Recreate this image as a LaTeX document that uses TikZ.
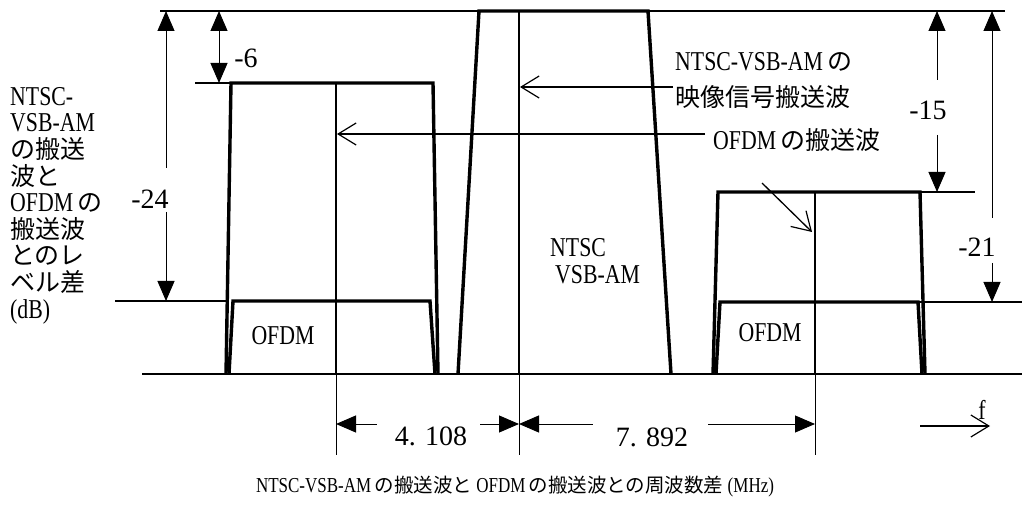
\documentclass[tikz,border=0pt]{standalone}
\usepackage{fontspec}
\setmainfont{Liberation Serif}[Scale=1.09, FakeStretch=0.8]
\newfontfamily\num{Liberation Serif}[Scale=1.12]
\newfontfamily\jp{Noto Sans CJK JP}
\usetikzlibrary{arrows.meta}
\newcommand{\J}[1]{{\jp #1}}
\begin{document}
\begin{tikzpicture}[x=1pt,y=-1pt,
  lvl/.style={line width=1.2pt},
  boxline/.style={line width=3.4pt, line join=miter, line cap=butt},
  carrier/.style={line width=1.8pt},
  guide/.style={line width=0.9pt},
  dimline/.style={line width=1pt},
  tri/.tip={Triangle[length=20pt,width=17pt]},
  barb/.tip={Straight Barb[length=18pt,width=22pt,line width=1.2pt]},
  ptr/.style={line width=1.3pt,-barb},
  txt/.style={inner sep=0pt, font=\fontsize{25}{26.6}\selectfont},
  numtxt/.style={inner sep=0pt, font=\fontsize{25}{27}\selectfont\num},
  captxt/.style={inner sep=0pt, font=\fontsize{19.5}{24}\selectfont}
]
\useasboundingbox (0,0) rectangle (1025,510);
% --- key points
\coordinate (TL) at (160,11);  \coordinate (TR) at (1005,11);
\coordinate (BL) at (142,374); \coordinate (BR) at (1022,374);
\coordinate (L83) at (195,83);
\coordinate (L301) at (115,301);
\coordinate (R192) at (975,192);
\coordinate (R302) at (1022,302);
% left box
\coordinate (LBbl) at (226,374); \coordinate (LBtl) at (231,83);
\coordinate (LBtr) at (433,83);  \coordinate (LBbr) at (438,374);
\coordinate (LTbl) at (229,374); \coordinate (LTtl) at (233,301);
\coordinate (LTtr) at (430,301); \coordinate (LTbr) at (435,374);
\coordinate (LCt) at (336,83); \coordinate (LCb) at (336,374); \coordinate (LCe) at (336,455);
% VSB
\coordinate (Vbl) at (458,374); \coordinate (Vtl) at (479,11);
\coordinate (Vtr) at (648,11);  \coordinate (Vbr) at (671,374);
\coordinate (Ct) at (519,11); \coordinate (Cb) at (519,374); \coordinate (Ce) at (519,455);
% right box
\coordinate (RBbl) at (713,374); \coordinate (RBtl) at (718,192);
\coordinate (RBtr) at (920,192); \coordinate (RBbr) at (925,374);
\coordinate (RTbl) at (716,374); \coordinate (RTtl) at (720,302);
\coordinate (RTtr) at (918,302); \coordinate (RTbr) at (922,374);
\coordinate (RCt) at (815,192); \coordinate (RCb) at (815,374); \coordinate (RCe) at (815,455);

% --- reference level lines
\draw[lvl] (TL) -- (TR);
\draw[lvl] (BL) -- (BR);
\draw[lvl] (L83) -- (LBtl);
\draw[lvl] (L301) -- (LBbl |- L301);
\draw[lvl] (RBtr) -- (R192);
\draw[lvl] (RTtr) -- (R302);

% --- spectra
\draw[boxline] (LBbl) -- (LBtl) -- (LBtr) -- (LBbr);
\draw[boxline] (LTbl) -- (LTtl) -- (LTtr) -- (LTbr);
\draw[boxline] (Vbl) -- (Vtl) -- (Vtr) -- (Vbr);
\draw[boxline] (RBbl) -- (RBtl) -- (RBtr) -- (RBbr);
\draw[boxline] (RTbl) -- (RTtl) -- (RTtr) -- (RTbr);

% --- carriers
\draw[carrier] (LCt) -- (LCb); \draw[guide] (LCb) -- (LCe);
\draw[carrier] (Ct) -- (Cb);   \draw[guide] (Cb) -- (Ce);
\draw[carrier] (RCt) -- (RCb); \draw[guide] (RCb) -- (RCe);

% --- level dimensions
\coordinate (d6t) at (219,11); \coordinate (d6b) at (219,83);
\draw[dimline,tri-tri] (d6t) -- (d6b);
\node[numtxt] (m6) at (246,58) {-6};

\coordinate (d24t) at (166,11); \coordinate (d24m1) at (166,168);
\coordinate (d24m2) at (166,212); \coordinate (d24b) at (166,301);
\draw[dimline,tri-] (d24t) -- (d24m1);
\draw[dimline,-tri] (d24m2) -- (d24b);
\node[numtxt] (m24) at (150,199) {-24};

\coordinate (d15t) at (937,11); \coordinate (d15m1) at (937,80);
\coordinate (d15m2) at (937,135); \coordinate (d15b) at (937,192);
\draw[dimline,tri-] (d15t) -- (d15m1);
\draw[dimline,-tri] (d15m2) -- (d15b);
\node[numtxt] (m15) at (928,110) {-15};

\coordinate (d21t) at (992,11); \coordinate (d21m1) at (992,218);
\coordinate (d21m2) at (992,263); \coordinate (d21b) at (992,302);
\draw[dimline,tri-] (d21t) -- (d21m1);
\draw[dimline,-tri] (d21m2) -- (d21b);
\node[numtxt] (m21) at (977,247) {-21};

% --- frequency dimensions
\coordinate (f1a) at (336,424); \coordinate (f1b) at (377,424);
\coordinate (f2a) at (480,424); \coordinate (f2b) at (519,424);
\coordinate (f3a) at (519,424); \coordinate (f3b) at (593,424);
\coordinate (f4a) at (708,424); \coordinate (f4b) at (815,424);
\draw[dimline,tri-] (f1a) -- (f1b);
\draw[dimline,-tri] (f2a) -- (f2b);
\draw[dimline,tri-] (f3a) -- (f3b);
\draw[dimline,-tri] (f4a) -- (f4b);
\node[numtxt] (v1) at (431,436) {4.\,\,108};
\node[numtxt] (v2) at (652,437) {7.\,\,892};

\coordinate (fa) at (920,426); \coordinate (fb) at (990,426);
\draw[ptr] (fa) -- (fb);
\node[txt] (fl) at (982,410) {f};

% --- pointers
\coordinate (p1a) at (673,87); \coordinate (p1b) at (520,87);
\draw[ptr] (p1a) -- (p1b);
\coordinate (p2a) at (705,134); \coordinate (p2b) at (337,134);
\draw[ptr] (p2a) -- (p2b);
\coordinate (p3a) at (762,183); \coordinate (p3b) at (812,232);
\draw[ptr] (p3a) -- (p3b);

% --- texts
\node[txt,anchor=north west,align=left] (ylab) at (10,87)
  {NTSC-\\VSB-AM\\\J{の搬送}\\\J{波と}\\OFDM\J{\,の}\\\J{搬送波}\\\J{とのレ}\\\J{ベル差}\\(dB)};
\node[txt,anchor=west] (n1) at (675,62) {NTSC-VSB-AM\J{\,の}};
\node[txt,anchor=west] (n2) at (675,97) {\J{映像信号搬送波}};
\node[txt,anchor=west] (o1) at (713,140) {OFDM\J{\,の搬送波}};
\node[txt,anchor=west] (c1) at (550,248) {NTSC};
\node[txt,anchor=west] (c2) at (555,275) {VSB-AM};
\node[txt] (ol) at (283,336) {OFDM};
\node[txt] (or) at (770,333) {OFDM};
\node[captxt] (cap) at (515,487) {NTSC-VSB-AM\J{\,の搬送波と} OFDM\J{\,の搬送波との周波数差} (MHz)};
\end{tikzpicture}
\end{document}
